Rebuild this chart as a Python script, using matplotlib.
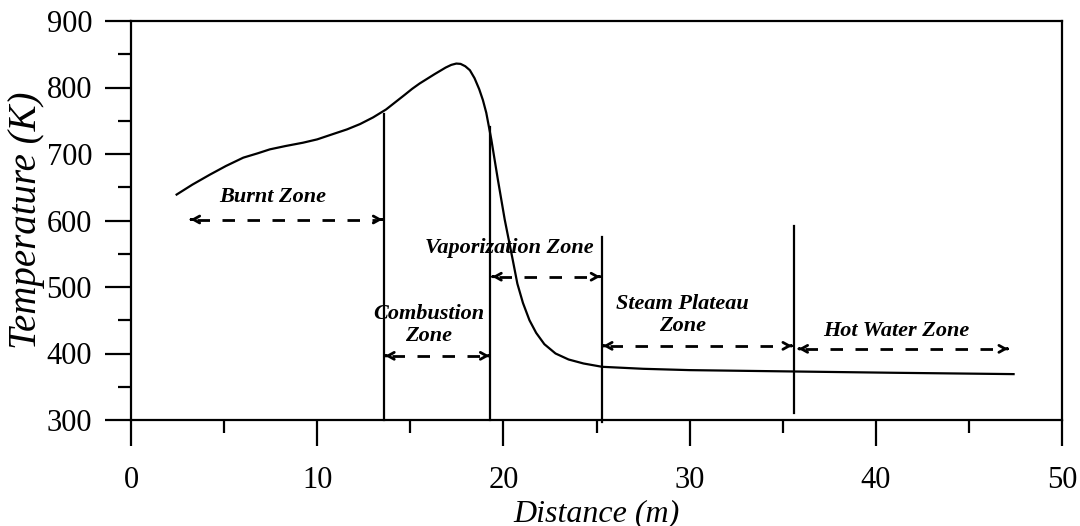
import matplotlib
matplotlib.use("Agg")
import matplotlib.pyplot as plt
from matplotlib.ticker import MultipleLocator

plt.rcParams['font.family'] = ['Liberation Serif', 'DejaVu Serif']

# Temperature profile
distance = [2.45, 3.3, 4.24, 5.1, 6.03, 6.8, 7.46, 8.3, 9.24, 10.0, 10.85, 11.6, 12.3, 13.0, 13.7,
            14.2, 14.7, 15.1, 15.5, 15.9, 16.3, 16.6, 16.9, 17.2, 17.47, 17.7, 17.95, 18.2, 18.45,
            18.7, 18.9, 19.08, 19.35, 19.7, 20.07, 20.5, 20.75, 21.05, 21.4, 21.76, 22.2, 22.8,
            23.5, 24.3, 25.3, 27.5, 30.0, 35.5, 41.0, 47.4]
temperature = [639, 654, 669, 682, 694.5, 701, 707, 712, 717, 722, 730, 737, 745, 755, 767,
               778, 789, 798, 806, 813, 820, 825, 830, 834, 836, 835.5, 832, 826, 814,
               797.5, 781, 762, 722, 662, 601.5, 541, 505, 476, 450, 431, 414, 400,
               391, 385, 380, 377, 375, 373, 371, 369]

# Zone boundaries: x position, bottom, top
boundary_x = [13.6, 19.3, 25.3, 35.6]
boundary_ymin = [300, 300, 297, 310]
boundary_ymax = [760, 740, 575, 592]

# Zone arrows: start, end, level
arrow_x0 = [3.2, 13.65, 19.4, 25.35, 35.85]
arrow_x1 = [13.5, 19.25, 25.2, 35.5, 47.1]
arrow_y = [601.5, 396.5, 515.5, 411.5, 407]

zone_labels = ["Burnt Zone", "Combustion\nZone", "Vaporization Zone", "Steam Plateau\nZone", "Hot Water Zone"]
label_x = [7.6, 16.0, 20.3, 29.6, 41.1]
label_y = [636, 443, 559, 458, 434]

fig = plt.figure(figsize=(10.8, 5.26), dpi=100)
ax = fig.add_axes([131/1080, 1-420/526, (1062-131)/1080, (420-21)/526])

ax.plot(distance, temperature, color='black', lw=1.6, solid_joinstyle='round')

for bx, b0, b1 in zip(boundary_x, boundary_ymin, boundary_ymax):
    ax.plot([bx, bx], [b0, b1], color='black', lw=1.6, clip_on=False)

for x0, x1, y in zip(arrow_x0, arrow_x1, arrow_y):
    ax.plot([x0 + 0.35, x1 - 0.35], [y, y], color='black', lw=2.0, dashes=(4.5, 4.5))
    ax.annotate('', xy=(x1, y), xytext=(x1 - 0.05, y),
                arrowprops=dict(arrowstyle='->,head_length=0.45,head_width=0.25', lw=2.0, color='black',
                                shrinkA=0, shrinkB=0))
    ax.annotate('', xy=(x0, y), xytext=(x0 + 0.05, y),
                arrowprops=dict(arrowstyle='->,head_length=0.45,head_width=0.25', lw=2.0, color='black',
                                shrinkA=0, shrinkB=0))

for t, lx, ly in zip(zone_labels, label_x, label_y):
    ax.text(lx, ly, t, ha='center', va='center', fontsize=16, fontweight='bold', fontstyle='italic',
            linespacing=1.15)

ax.set_xlim(0, 50)
ax.set_ylim(300, 900)
ax.xaxis.set_major_locator(MultipleLocator(10))
ax.xaxis.set_minor_locator(MultipleLocator(5))
ax.yaxis.set_major_locator(MultipleLocator(100))
ax.yaxis.set_minor_locator(MultipleLocator(50))
ax.tick_params(which='both', direction='out', width=1.6, labelsize=22, top=False, right=False)
ax.tick_params(which='major', length=19)
ax.tick_params(which='minor', length=9.5)
ax.tick_params(axis='x', which='major', pad=14)
ax.tick_params(axis='y', which='major', pad=9)
for s in ax.spines.values():
    s.set_linewidth(1.6)

ax.set_xlabel('Distance (m)', fontsize=23, fontstyle='italic', labelpad=3)
ax.set_ylabel('Temperature (K)', fontsize=28, fontstyle='italic', labelpad=1)

fig.savefig('out.png', dpi=100)
